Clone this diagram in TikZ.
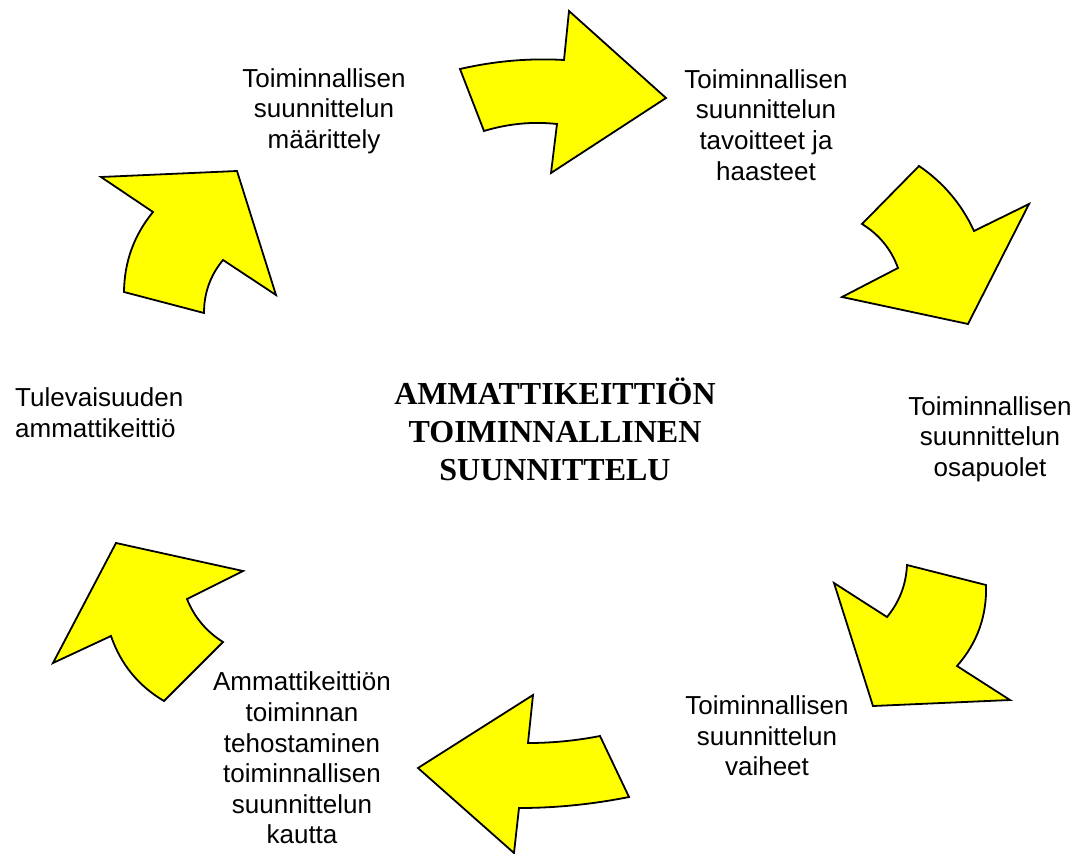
\documentclass[tikz,border=0pt]{standalone}
\usepackage{fontspec}
\setmainfont{Liberation Sans}
\newfontfamily\titlefont{Liberation Serif}
\definecolor{arrowyellow}{HTML}{FFFF00}
\begin{document}
\begin{tikzpicture}[x=1pt,y=-1pt,
  blockarrow/.style={fill=arrowyellow,draw=black,line width=1.8pt,line join=miter},
  label/.style={inner sep=0pt,align=center,font=\fontsize{26}{30.6}\selectfont},
  title/.style={inner sep=0pt,align=center,font=\titlefont\bfseries\fontsize{32}{38}\selectfont}]
\useasboundingbox (0,0) rectangle (1088,854);
% arrow 1 (top, pointing right)
\draw[blockarrow] (460,69) .. controls (494.7,61) and (529.3,58) .. (564,60) -- (569,11) -- (666,98)
  -- (551,173) -- (557,124) .. controls (532.3,121.3) and (508,123.7) .. (484,131) -- cycle;
% arrow 2 (upper right, pointing down)
\draw[blockarrow] (919,166) .. controls (943.3,182.5) and (961.7,204.2) .. (974,231) -- (1029,204) -- (968,324)
  -- (842,297) -- (898,268) .. controls (891.1,249.1) and (879.1,234.5) .. (862,224) -- cycle;
% arrow 3 (lower right, pointing down-left)
\draw[blockarrow] (907,565) -- (986,585) .. controls (987,615.9) and (977.3,642.9) .. (957,666) -- (1010,700)
  -- (873,706) -- (834,583) -- (887,617) .. controls (899.5,601.9) and (906.1,584.5) .. cycle;
% arrow 4 (bottom, pointing left)
\draw[blockarrow] (600,736) -- (629,797) .. controls (592.3,804.3) and (555.7,808) .. (519,808) -- (514,853)
  -- (418,768) -- (533,695) -- (528,743) .. controls (552,743) and (576,740.7) .. cycle;
% arrow 5 (lower left, pointing up)
\draw[blockarrow] (116,543) -- (243,571) -- (187,599) .. controls (194.3,617.2) and (206.3,631.5) .. (223,642)
  -- (164,701) .. controls (138.4,685.9) and (120.7,664.2) .. (111,636) -- (53,663) -- cycle;
% arrow 6 (upper left, pointing up-right)
\draw[blockarrow] (101,177) -- (237,171) -- (276,295) -- (223,260) .. controls (210.3,275.3) and (204,293) .. (204,313)
  -- (124,292) .. controls (124.3,262) and (133.9,235.3) .. (153,212) -- cycle;
% texts
\node[label] (maarittely) at (324,111) {Toiminnallisen\\suunnittelun\\määrittely};
\node[label] (tavoitteet) at (766,125) {Toiminnallisen\\suunnittelun\\tavoitteet ja\\haasteet};
\node[label] (osapuolet) at (990,439) {Toiminnallisen\\suunnittelun\\osapuolet};
\node[label] (vaiheet) at (767,736) {Toiminnallisen\\suunnittelun\\vaiheet};
\node[label] (tehostaminen) at (302,758) {Ammattikeittiön\\toiminnan\\tehostaminen\\toiminnallisen\\suunnittelun\\kautta};
\node[label,align=left,anchor=west] (tulevaisuus) at (15,413) {Tulevaisuuden\\ammattikeittiö};
\node[title] (otsikko) at (555,429) {AMMATTIKEITTIÖN\\TOIMINNALLINEN\\SUUNNITTELU};
\end{tikzpicture}
\end{document}
